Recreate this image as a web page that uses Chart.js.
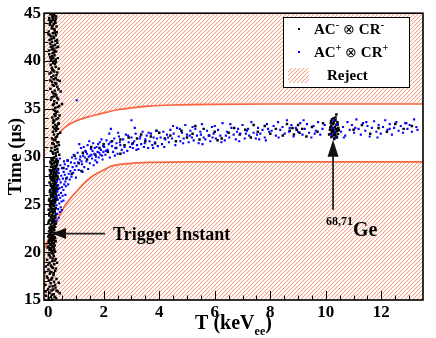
<!DOCTYPE html>
<html><head><meta charset="utf-8">
<script src="https://cdn.jsdelivr.net/npm/chart.js@4.4.1/dist/chart.umd.min.js"></script>
<style>html,body{margin:0;padding:0;background:#fff}canvas{display:block}</style>
</head><body>
<canvas id="c" width="436" height="338"></canvas>
<script>
// ---------- tick labels ----------
const xTicks=[0,2,4,6,8,10,12];
const yTicks=[15,20,25,30,35,40,45];
const xMinorTicks=[0,0.5,1,1.5,2,2.5,3,3.5,4,4.5,5,5.5,6,6.5,7,7.5,8,8.5,9,9.5,10,10.5,11,11.5,12,12.5,13];
const yMinorTicks=[15,16,17,18,19,20,21,22,23,24,25,26,27,28,29,30,31,32,33,34,35,36,37,38,39,40,41,42,43,44,45];

// ---------- reject boundaries ----------
const upperCurve=[[0.11,31.2],[0.2,31.65],[0.3,32.1],[0.5,32.8],[0.75,33.35],[1.07,33.8],[1.5,34.2],[1.85,34.45],[2.5,34.9],[3.0,35.1],[3.63,35.28],[4.5,35.4],[6,35.47],[8,35.5],[13.5,35.5]];
const upperRejectEdge=[[-0.15,29.6],[0.11,31.2],[0.2,31.65],[0.3,32.1],[0.5,32.8],[0.75,33.35],[1.07,33.8],[1.5,34.2],[1.85,34.45],[2.5,34.9],[3.0,35.1],[3.63,35.28],[4.5,35.4],[6,35.47],[8,35.5],[13.5,35.5]];
const lowerCurve=[[-0.15,20.3],[0,21.3],[0.24,22.8],[0.59,24.8],[1.07,26.5],[1.4,27.5],[1.67,28.1],[2.0,28.6],[2.27,29.0],[3.0,29.3],[3.8,29.4],[5,29.45],[13.5,29.45]];

// ---------- AC- x CR- (black) ----------
const blackBand=[
[0.08,44.9],[0.15,44.7],[0.22,44.8],[0.04,44.5],[0.18,44.3],[0.27,44.4],[0.11,44.1],[0.06,43.8],[0.2,43.9],[0.3,43.6],[0.13,43.4],[0.24,43.2],[0.02,43.1],[0.17,42.9],[0.09,42.6],[0.28,42.7],[0.21,42.4],[0.05,42.2],[0.14,42.0],[0.33,41.9],[0.25,41.7],[0.1,41.5],[0.19,41.3],[0.03,41.1],[0.29,41.0],[0.16,40.8],[0.23,40.6],[0.07,40.4],[0.12,40.2],[0.35,40.3],[0.2,40.0],[0.26,44.0],[0.01,42.8],[0.32,42.2],[0.16,43.7],[0.09,44.2],[0.23,41.1],[0.14,40.5],
[0.12,44.95],[0.19,44.6],[0.25,44.15],[0.07,44.0],[0.14,43.55],[0.22,43.35],[0.31,43.0],[0.05,42.75],[0.19,42.55],[0.12,42.3],[0.26,42.1],[0.08,41.8],[0.17,41.6],[0.3,41.4],[0.13,41.2],[0.21,40.9],[0.04,40.7],[0.18,40.35],[0.27,40.15],[0.1,40.05],[0.24,42.95],[0.29,44.65],[0.03,44.3],[0.36,41.5],[0.16,44.5],
[0.18,39.8],[0.09,39.6],[0.27,39.4],[0.15,39.1],[0.38,39.2],[0.22,38.9],[0.05,38.7],[0.3,38.5],[0.12,38.3],[0.2,38.1],[0.42,37.9],[0.26,37.7],[0.16,37.5],[0.33,37.3],[0.08,37.1],[0.24,36.9],[0.45,36.8],[0.19,36.6],[0.29,36.4],[0.13,36.2],[0.36,36.0],[0.22,35.8],[0.31,35.6],[0.17,35.4],[0.4,35.3],[0.26,35.1],[0.5,35.5],[0.11,38.8],[0.34,38.0],[0.21,36.3],[0.28,39.9],[0.14,37.8],
[0.24,39.7],[0.13,39.3],[0.33,38.8],[0.19,38.45],[0.27,38.2],[0.08,37.95],[0.21,37.4],[0.37,37.05],[0.15,36.75],[0.26,36.55],[0.32,36.15],[0.1,35.95],[0.2,35.5],[0.35,35.2],[0.29,37.6],[0.17,39.05],
[0.2,34.9],[0.33,34.7],[0.27,34.5],[0.41,34.3],[0.15,34.1],[0.3,33.9],[0.22,33.7],[0.38,33.5],[0.25,33.3],[0.18,33.1],[0.35,32.9],[0.28,32.7],[0.43,32.5],[0.21,32.3],[0.32,32.1],[0.14,31.9],[0.26,31.7],[0.37,31.5],[0.2,31.3],[0.3,31.1],[0.12,30.9],[0.24,30.7],[0.34,30.5],[0.18,30.3],[0.28,30.1],[0.4,30.2],[0.22,34.4],[0.17,32.6],[0.31,33.2],[0.24,31.0],[0.36,34.0],[0.1,30.6],[0.27,32.0],[0.19,33.8],[0.33,30.8],[0.15,31.4],[0.25,34.8],[0.39,31.2],
[0.26,34.25],[0.18,33.55],[0.29,33.0],[0.35,32.35],[0.2,31.75],[0.32,31.5],[0.16,30.45],[0.27,30.35],[0.37,33.4],[0.23,32.9],
[0.22,29.9],[0.12,29.8],[0.3,29.75],[0.17,29.6],[0.35,29.55],[0.08,29.45],[0.26,29.4],[0.2,29.3],[0.14,29.2],[0.32,29.1],[0.24,29.05],[0.1,28.95],[0.28,28.85],[0.18,28.8],[0.36,28.7],[0.06,28.6],[0.22,28.55],[0.15,28.45],[0.3,28.35],[0.25,28.3],[0.11,28.2],[0.19,28.1],[0.33,28.0],[0.27,27.95],[0.08,27.85],[0.16,27.75],[0.23,27.7],[0.31,27.6],[0.13,27.5],[0.21,27.45],[0.29,27.35],[0.05,27.3],[0.18,27.2],[0.26,27.1],[0.34,27.0],[0.1,26.95],[0.2,26.85],[0.15,26.75],[0.28,26.7],[0.24,26.6],[0.07,26.5],[0.17,26.45],[0.32,26.35],[0.12,26.25],[0.22,26.2],[0.27,26.1],[0.09,26.0],[0.19,25.95],[0.3,25.85],[0.14,25.75],[0.24,25.7],[0.05,25.6],[0.2,25.5],[0.28,25.45],[0.11,25.35],[0.16,25.25],[0.25,25.2],[0.08,25.1],[0.21,25.05],[0.13,29.65],[0.27,29.0],[0.09,28.4],[0.2,27.9],[0.25,27.4],[0.14,26.9],[0.23,26.3],[0.16,25.9],[0.03,25.4],[0.29,26.55],[0.18,28.65],
[0.19,29.85],[0.27,29.55],[0.1,29.3],[0.33,29.35],[0.16,28.95],[0.24,28.7],[0.13,28.55],[0.32,28.55],[0.21,28.25],[0.06,28.05],[0.28,28.15],[0.15,27.9],[0.35,27.8],[0.1,27.65],[0.19,27.55],[0.26,27.25],[0.09,27.1],[0.22,27.05],[0.3,26.9],[0.13,26.65],[0.19,26.55],[0.35,26.6],[0.06,26.3],[0.26,26.4],[0.17,26.15],[0.11,25.85],[0.22,25.8],[0.31,25.6],[0.18,25.4],[0.08,25.3],[0.24,25.3],[0.14,25.1],
[0.15,24.95],[0.06,24.85],[0.22,24.8],[0.11,24.7],[0.27,24.6],[0.18,24.5],[0.02,24.45],[0.13,24.35],[0.24,24.25],[0.08,24.2],[0.19,24.1],[0.29,24.0],[0.14,23.9],[0.04,23.85],[0.21,23.75],[0.1,23.65],[0.26,23.6],[0.16,23.5],[0.07,23.4],[0.23,23.3],[0.12,23.25],[0.18,23.15],[0.01,23.05],[0.28,23.0],[0.09,22.9],[0.2,22.8],[0.14,22.7],[0.25,22.65],[0.05,22.55],[0.17,22.45],[0.11,22.35],[0.22,22.3],[0.03,22.2],[0.15,22.1],[0.26,22.0],[0.08,21.9],[0.19,21.85],[0.12,21.75],[0.0,21.65],[0.23,21.6],[0.16,21.5],[0.06,21.4],[0.2,21.3],[0.1,21.25],[0.27,21.15],[0.13,21.05],[0.02,20.95],[0.18,20.9],[0.08,20.8],[0.24,20.7],[0.14,20.6],[-0.02,20.5],[0.2,20.45],[0.1,20.35],[0.05,20.25],[0.16,20.15],[0.25,20.05],[0.12,24.55],[0.21,23.2],[0.07,22.05],[0.15,21.0],[0.01,20.6],
[0.18,24.9],[0.09,24.6],[0.23,24.45],[0.16,24.2],[0.04,24.05],[0.26,23.85],[0.12,23.7],[0.19,23.45],[0.03,23.3],[0.15,23.05],[0.24,22.95],[0.1,22.6],[0.2,22.5],[0.07,22.35],[0.13,22.15],[0.22,21.95],[0.04,21.8],[0.17,21.7],[0.09,21.55],[0.25,21.45],[0.13,21.3],[0.03,21.2],[0.21,21.0],[0.1,20.85],[0.17,20.65],[0.06,20.45],[0.22,20.25],[0.12,20.1],
[0.12,19.9],[0.02,19.75],[0.2,19.6],[0.08,19.45],[0.27,19.3],[-0.04,19.2],[0.15,19.05],[0.05,18.9],[0.22,18.75],[0.1,18.6],[-0.08,18.5],[0.17,18.35],[0.01,18.2],[0.25,18.05],[0.12,17.9],[0.06,17.75],[0.19,17.6],[-0.05,17.45],[0.14,17.3],[0.3,17.2],[0.03,17.05],[0.21,16.9],[0.09,16.75],[-0.1,16.6],[0.16,16.45],[0.26,16.3],[0.0,16.15],[0.12,16.0],[0.35,15.9],[0.05,15.75],[0.2,15.6],[-0.07,15.45],[0.1,15.3],[0.28,15.2],[0.15,15.05],[0.38,16.8],[0.42,15.7],[0.32,18.9],[-0.12,17.9],[0.18,19.85],
[0.05,19.65],[0.16,19.35],[0.23,19.1],[0.0,18.7],[0.13,18.45],[0.28,18.3],[0.08,17.95],[0.2,17.8],[-0.02,17.3],[0.11,17.15],[0.25,16.6],[0.05,16.4],[0.18,16.1],[-0.09,15.9],[0.13,15.55],[0.23,15.35],[0.02,15.15],[0.3,16.0]
];
const blackSpread=[
[0.55,28.8],[0.7,29.6],[0.85,28.2],[0.95,30.1],[1.1,29.3],[1.25,30.4],[1.4,29.7],[1.55,31.0],[1.7,30.2],[1.85,30.9],[2.0,31.3],[2.15,30.5],[2.3,31.6],[2.45,30.9],[2.6,31.8],[2.75,31.2],[2.9,32.0],[3.05,31.4],[3.2,31.9],[3.35,32.3],[3.5,31.6],[3.7,32.1],[3.85,31.4],[4.0,32.5],[4.2,31.9],[4.4,32.2],[4.6,31.6],[4.8,32.7],[5.0,32.0],[5.2,32.4],[5.45,31.8],[5.6,32.9],[5.8,32.2],[6.0,32.6],[6.25,31.9],[6.5,32.5],[6.7,33.0],[6.9,32.3],[7.1,32.8],[7.3,32.0],[7.55,32.6],[7.8,33.2],[8.0,32.4],[8.2,32.9],[8.45,32.2],[8.6,33.4],[8.7,32.7],[8.8,33.0],[8.85,32.3],[8.95,32.8],[9.0,33.3],[9.05,32.5],[9.15,32.9],[9.3,32.1],[9.5,33.1],[9.7,32.6],[9.9,33.5],[11.0,32.8],[11.3,33.3],[11.6,32.4],[11.9,33.0],[12.2,32.6],[12.5,33.4],[12.8,32.9],[13.1,33.2],[2.6,30.3],[3.9,32.7],[5.3,33.2],[6.1,31.7],[7.4,33.3],[1.2,28.5],[0.65,27.7]
];
const blackGe=[
[10.22,33.9],[10.35,34.1],[10.3,33.7],[10.18,33.5],[10.42,33.6],[10.27,33.4],[10.38,33.3],[10.2,33.2],[10.33,33.1],[10.45,33.0],[10.24,32.95],[10.36,32.85],[10.15,32.8],[10.29,32.7],[10.41,32.65],[10.22,32.55],[10.34,32.5],[10.18,32.4],[10.3,32.3],[10.44,32.35],[10.25,32.2],[10.37,32.1],[10.2,32.05],[10.32,31.95],[10.4,32.0],[10.27,33.55],[10.39,32.9],[10.16,33.05],[10.31,32.45],[10.23,32.65],[10.35,33.8],[10.12,32.3],[10.47,32.75],[10.28,34.0],[10.34,32.25],[10.19,33.7],[10.43,33.35],[10.26,32.85],[10.38,34.4],[10.3,31.85]
];

// ---------- AC+ x CR+ (blue) ----------
const blueLow=[
[0.3,23.3],[0.38,23.6],[0.33,24.0],[0.42,24.2],[0.36,24.5],[0.45,24.7],[0.3,24.9],[0.4,25.1],[0.48,25.3],[0.35,25.5],[0.43,25.7],[0.52,25.9],[0.38,26.0],[0.46,26.2],[0.32,26.4],[0.55,26.5],[0.41,26.7],[0.5,26.8],[0.36,27.0],[0.58,27.1],[0.45,27.3],[0.62,27.4],[0.4,27.6],[0.53,27.7],[0.68,27.8],[0.47,28.0],[0.6,28.1],[0.74,28.2],[0.38,28.3],[0.56,28.4],[0.8,28.5],[0.66,28.7],[0.5,28.8],[0.88,28.9],[0.72,29.0],[0.6,29.2],[0.95,29.3],[0.82,29.4],[0.44,29.1],[0.34,28.6],[0.9,28.3],[0.78,27.6],[0.64,26.9],[0.7,29.6],[0.57,29.5],[0.99,29.8],[0.86,29.9],[0.49,24.4],[0.55,25.4],[0.62,26.0],[0.72,27.1],[0.84,27.9],[0.96,28.6],[0.27,25.8],[0.31,27.4],[0.42,29.8],[1.0,27.8],[0.92,30.2]
];
const blueMid=[
[1.02,29.0],[1.06,30.4],[1.1,28.6],[1.14,29.7],[1.18,30.9],[1.22,29.2],[1.26,30.1],[1.3,28.9],[1.34,30.6],[1.38,29.5],[1.42,31.2],[1.46,30.0],[1.5,29.3],[1.54,30.8],[1.58,29.8],[1.62,31.4],[1.66,30.3],[1.7,29.6],[1.74,31.0],[1.78,30.5],[1.82,29.9],[1.86,31.5],[1.9,30.7],[1.94,30.1],[1.98,31.1],[1.08,29.4],[1.16,30.0],[1.24,28.4],[1.32,29.9],[1.4,30.3],[1.48,31.6],[1.56,30.2],[1.64,29.1],[1.72,30.0],[1.8,31.3],[1.88,30.2],[1.96,29.7],[1.12,31.3],[1.28,31.0],[1.44,28.7],[1.6,30.6],[1.76,29.4],[1.92,31.8],[1.03,35.9],[1.2,29.5],[1.36,30.5],[1.52,30.1],[1.68,30.9],[1.84,30.4],[1.99,30.5],
[2.02,31.0],[2.06,30.2],[2.1,31.7],[2.14,30.7],[2.18,31.3],[2.22,29.9],[2.26,32.9],[2.3,31.1],[2.34,30.5],[2.38,31.9],[2.42,30.9],[2.46,31.4],[2.5,30.3],[2.55,32.1],[2.6,31.2],[2.65,30.7],[2.7,31.8],[2.75,31.0],[2.8,32.3],[2.85,30.6],[2.9,31.5],[2.95,31.0],[3.0,32.0],[3.05,30.9],[3.1,31.6],[3.15,32.4],[3.2,31.2],[3.25,30.8],[3.3,31.9],[3.35,31.3],[3.4,32.6],[3.45,31.0],[3.5,31.8],[3.55,32.2],[3.6,30.9],[3.65,31.6],[3.7,32.4],[3.75,31.2],[3.8,32.0],[3.85,31.5],[3.9,32.7],[3.95,31.1],[2.08,30.6],[2.24,31.5],[2.4,30.1],[2.58,31.5],[2.72,30.4],[2.88,32.2],[3.02,31.3],[3.18,30.7],[3.32,32.1],[3.48,31.4],[3.62,32.5],[3.78,30.9],[3.92,31.9],[2.2,32.4],[2.52,32.5],[3.12,33.0],[3.0,33.8]
];
const blueHigh=[
[4.05,32.0],[4.1,31.3],[4.15,32.6],[4.22,31.8],[4.28,32.3],[4.35,31.5],[4.4,32.8],[4.46,31.9],[4.52,32.4],[4.58,31.2],[4.64,33.0],[4.7,32.1],[4.76,31.6],[4.82,32.5],[4.88,31.9],[4.94,33.3],[5.0,32.3],[5.06,31.5],[5.12,32.7],[5.18,32.0],[5.24,31.7],[5.3,32.9],[5.36,32.2],[5.42,31.4],[5.48,32.6],[5.54,33.4],[5.6,32.0],[5.66,31.8],[5.72,32.7],[5.78,32.2],[5.84,31.6],[5.9,33.1],[5.96,32.4],[6.04,31.9],[6.12,32.8],[6.2,32.2],[6.28,33.5],[6.36,31.7],[6.44,32.6],[6.52,32.0],[6.6,33.0],[6.68,32.3],[6.76,31.8],[6.84,32.9],[6.92,32.4],[7.0,33.3],[7.08,31.9],[7.16,32.7],[7.24,32.2],[7.32,33.6],[7.4,32.5],[7.48,31.9],[7.56,33.0],[7.64,32.4],[7.72,32.8],[7.8,32.0],[7.88,33.4],[7.96,32.6],[4.18,31.0],[4.5,33.2],[4.86,31.4],[5.2,33.1],[5.56,31.3],[5.92,32.0],[6.24,31.5],[6.56,33.4],[6.88,31.6],[7.2,32.9],[7.52,32.3],[7.84,31.7],[4.32,32.0],[4.74,32.9],[5.1,32.2],[5.5,32.3],[6.0,33.2],[6.4,32.2],[6.8,32.6],[7.12,32.4],[7.6,31.8],[7.92,32.9],
[8.05,32.7],[8.12,33.2],[8.2,32.2],[8.28,33.6],[8.36,32.8],[8.44,33.1],[8.52,32.4],[8.6,33.8],[8.68,32.6],[8.76,33.3],[8.84,32.1],[8.92,33.0],[9.0,32.6],[9.08,33.5],[9.16,32.3],[9.24,32.9],[9.32,33.4],[9.4,32.5],[9.48,32.0],[9.56,33.2],[9.64,32.7],[9.72,33.6],[9.8,32.3],[9.88,32.9],[9.96,33.3],[10.55,32.6],[10.62,33.1],[10.7,32.2],[10.78,33.6],[10.86,32.8],[10.94,33.3],[11.02,32.5],[11.1,33.9],[11.18,32.9],[11.26,32.3],[11.34,33.5],[11.42,32.7],[11.5,33.2],[11.58,32.1],[11.66,33.0],[11.74,33.7],[11.82,32.6],[11.9,33.3],[11.98,32.4],[12.06,33.1],[12.14,33.8],[12.22,32.8],[12.3,33.4],[12.38,32.3],[12.46,33.0],[12.54,33.6],[12.62,32.7],[12.7,33.2],[12.78,32.5],[12.86,33.5],[12.94,32.9],[13.02,33.3],[13.1,32.6],[13.18,33.9],[13.26,33.1],[8.3,32.0],[8.7,33.0],[9.2,33.8],[9.6,32.4],[10.65,32.0],[11.06,33.0],[11.46,33.6],[11.86,32.0],[12.3,32.9],[12.9,33.5],[13.3,32.8],[10.25,33.0],[10.33,32.6],[10.4,33.4],[10.2,32.3],[10.28,33.8],[10.36,32.0]
];

// ---------- annotation anchors (data units) ----------
const triggerTip=[0.14,21.95];
const geTip=[10.26,31.75];

const FONT='"Liberation Serif","Times New Roman",serif';
const HATCH_LINE='#f7a085', HATCH_SOFT='#fff0ea', CURVE='#f8653f';

function makeHatch(){
  const c=document.createElement('canvas');c.width=4;c.height=4;
  const g=c.getContext('2d');
  g.fillStyle='#fff';g.fillRect(0,0,4,4);
  for(let i=0;i<4;i++){
    g.fillStyle=HATCH_SOFT;g.fillRect(i,(4-i)%4,1,1);
    g.fillStyle=HATCH_LINE;g.fillRect(i,3-i,1,1);
  }
  return g.createPattern(c,'repeat');
}
const hatch=makeHatch();
const toXY=a=>a.map(p=>({x:p[0],y:p[1]}));

function rich(ctx,x,y,parts){
  let cx=x;
  for(const [t,s,dy,wt] of parts){
    ctx.font=(wt||'bold')+' '+s+'px '+FONT;
    ctx.fillText(t,cx,y+(dy||0));
    cx+=ctx.measureText(t).width;
  }
  return cx-x;
}
function richWidth(ctx,parts){
  let w=0;for(const [t,s,dy,wt] of parts){ctx.font=(wt||'bold')+' '+s+'px '+FONT;w+=ctx.measureText(t).width;}return w;
}

const deco={id:'deco',afterDatasetsDraw(chart){
  const {ctx,chartArea:a,scales:{x,y}}=chart;
  ctx.save();
  // inner ticks
  ctx.strokeStyle='#000';ctx.lineWidth=1;ctx.beginPath();
  xMinorTicks.forEach(v=>{const px=Math.round(x.getPixelForValue(v))+0.5;const L=xTicks.includes(v)?9:4.5;ctx.moveTo(px,a.bottom);ctx.lineTo(px,a.bottom-L);});
  yMinorTicks.forEach(v=>{const py=Math.round(y.getPixelForValue(v))+0.5;const L=yTicks.includes(v)?9:4.5;ctx.moveTo(a.left,py);ctx.lineTo(a.left+L,py);});
  ctx.stroke();
  // frame
  ctx.lineWidth=1.6;ctx.strokeRect(a.left,a.top,a.right-a.left,a.bottom-a.top);

  ctx.fillStyle='#000';ctx.textBaseline='alphabetic';ctx.textAlign='left';
  // Trigger Instant arrow
  const tx=x.getPixelForValue(triggerTip[0]), ty=y.getPixelForValue(triggerTip[1]);
  ctx.strokeStyle='#222';ctx.lineWidth=1.8;
  ctx.beginPath();ctx.moveTo(tx+12,ty);ctx.lineTo(tx+53,ty);ctx.stroke();
  ctx.fillStyle='#111';ctx.beginPath();ctx.moveTo(tx,ty);ctx.lineTo(tx+14,ty-5.5);ctx.lineTo(tx+14,ty+5.5);ctx.closePath();ctx.fill();
  ctx.fillStyle='#000';
  rich(ctx,tx+61,ty+6,[['Trigger Instant',18]]);
  // 68,71Ge arrow
  const gx=x.getPixelForValue(geTip[0]), gy=y.getPixelForValue(geTip[1]);
  ctx.beginPath();ctx.moveTo(gx,gy+14);ctx.lineTo(gx,gy+70);ctx.stroke();
  ctx.fillStyle='#111';ctx.beginPath();ctx.moveTo(gx,gy);ctx.lineTo(gx-5.5,gy+17);ctx.lineTo(gx+5.5,gy+17);ctx.closePath();ctx.fill();
  ctx.fillStyle='#000';
  let w=rich(ctx,gx-7,gy+85,[['68,71',12]]);
  rich(ctx,gx-7+w,gy+96,[['Ge',20]]);

  // legend box
  const L={x:283,y:17,w:126,h:70};
  ctx.fillStyle='#fff';ctx.fillRect(L.x,L.y,L.w,L.h);
  ctx.strokeStyle='#000';ctx.lineWidth=1;ctx.strokeRect(L.x+0.5,L.y+0.5,L.w,L.h);
  ctx.fillStyle='#000';ctx.fillRect(298,28,2,2);
  ctx.fillStyle='#0000ff';ctx.fillRect(298,51,2,2);
  ctx.fillStyle=hatch;ctx.fillRect(288,68,21,15);
  ctx.fillStyle='#000';
  rich(ctx,314,34,[['AC',15],['-',11,-6],[' ',15],['\u2297',14,0,'normal'],[' ',15],['CR',15],['-',11,-6]]);
  rich(ctx,314,57,[['AC',15],['+',10,-6],[' ',15],['\u2297',14,0,'normal'],[' ',15],['CR',15],['+',10,-6]]);
  rich(ctx,327,80,[['Reject',15]]);

  // axis titles
  const xt=[['T (keV',20],['ee',12,6],[')',20]];
  const xw=richWidth(ctx,xt);
  rich(ctx,(a.left+a.right)/2-xw/2,329,xt);
  ctx.save();ctx.translate(21,(a.top+a.bottom)/2);ctx.rotate(-Math.PI/2);
  ctx.font='bold 19px '+FONT;ctx.textAlign='center';ctx.fillText('Time (\u03bcs)',0,0);
  ctx.restore();
  ctx.restore();
}};

const ptBase={type:'scatter',pointStyle:'rect',borderWidth:0};
new Chart(document.getElementById('c'),{
  type:'scatter',
  data:{datasets:[
    Object.assign({},ptBase,{label:'AC+ CR+',data:toXY(blueLow.concat(blueMid,blueHigh)),backgroundColor:'#0000ff',pointRadius:1.5,order:0}),
    Object.assign({},ptBase,{label:'AC- CR-',data:toXY(blackBand.concat(blackSpread,blackGe)),backgroundColor:'#000000',pointRadius:1.75,order:1}),
    {type:'line',label:'upper',data:toXY(upperCurve),borderColor:CURVE,borderWidth:1.7,pointRadius:0,fill:false,cubicInterpolationMode:'monotone',order:2},
    {type:'line',label:'lower',data:toXY(lowerCurve),borderColor:CURVE,borderWidth:1.7,pointRadius:0,fill:false,cubicInterpolationMode:'monotone',order:2},
    {type:'line',label:'rejUp',data:toXY(upperRejectEdge),borderColor:'rgba(0,0,0,0)',borderWidth:0,pointRadius:0,fill:'end',backgroundColor:hatch,cubicInterpolationMode:'monotone',order:3},
    {type:'line',label:'rejLo',data:toXY(lowerCurve),borderColor:'rgba(0,0,0,0)',borderWidth:0,pointRadius:0,fill:'start',backgroundColor:hatch,cubicInterpolationMode:'monotone',order:3}
  ]},
  options:{
    responsive:false,animation:false,events:[],
    layout:{padding:{top:10,right:13,left:0,bottom:0}},
    plugins:{legend:{display:false},tooltip:{enabled:false}},
    scales:{
      x:{type:'linear',min:-0.15,max:13.5,
        afterFit:s=>{s.height=38;},
        afterBuildTicks:s=>{s.ticks=xTicks.map(v=>({value:v}));},
        grid:{display:false,drawTicks:false},border:{display:false},
        ticks:{padding:2,color:'#000',maxRotation:0,autoSkip:false,font:{family:FONT,weight:'bold',size:17}}},
      y:{type:'linear',min:15,max:45,
        afterFit:s=>{s.width=44;},
        afterBuildTicks:s=>{s.ticks=yTicks.map(v=>({value:v}));},
        grid:{display:false,drawTicks:false},border:{display:false},
        ticks:{padding:3,color:'#000',autoSkip:false,font:{family:FONT,weight:'bold',size:17}}}
    }
  },
  plugins:[deco]
});
</script>
</body></html>
